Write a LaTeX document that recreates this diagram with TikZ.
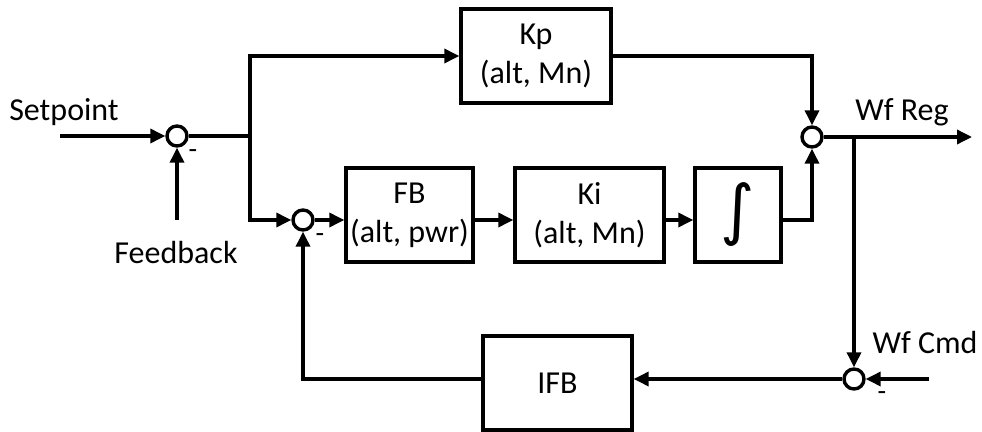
\documentclass[tikz,border=0pt]{standalone}
\usepackage{fontspec}
\setmainfont{Carlito}
\newfontfamily\symfont{DejaVu Sans}
\usetikzlibrary{arrows.meta}
\begin{document}
\begin{tikzpicture}[x=1pt,y=-1pt,line width=3.4pt,>={Triangle[length=15pt,width=14pt]},
  blk/.style={draw,align=center,minimum height=94pt,inner sep=0pt},
  sumj/.style={draw,circle,minimum size=20pt,inner sep=0pt},
  lbl/.style={font=\fontsize{32}{39}\selectfont},
  neg/.style={font=\fontsize{28}{28}\selectfont,inner sep=0pt}]
\useasboundingbox (0,0) rectangle (982,431);
\tikzset{every node/.append style={font=\fontsize{32}{39}\selectfont}}
% blocks
\node[blk,minimum width=150pt] (kp) at (536,56) {Kp\\(alt, Mn)};
\node[blk,minimum width=127pt] (fb) at (409.5,215) {FB\\(alt, pwr)};
\node[blk,minimum width=149pt] (ki) at (589.5,215) {Ki\\(alt, Mn)};
\node[blk,minimum width=86pt] (integ) at (738,215) {\fontsize{66}{66}\symfont ∫};
\node[blk,minimum width=149pt] (ifb) at (557.5,383) {IFB};
% summing junctions
\node[sumj] (suma) at (177,136) {};
\node[sumj] (sumb) at (303,220) {};
\node[sumj] (sumc) at (812,137) {};
\node[sumj] (sumd) at (854,379) {};
\node[neg] at (193,154) {-}; \node[neg] at (320,238) {-}; \node[neg] at (882,396) {-};
% free ends
\coordinate (spin) at (60,136); \coordinate (fbin) at (177,220);
\coordinate (split) at (250,136); \coordinate (tap) at (854,137);
\coordinate (wfout) at (972,137); \coordinate (cmdin) at (929,379);
% labels
\node[lbl] (setpt) at (64,112) {Setpoint};
\node[lbl] (fdbk) at (176,253) {Feedback};
\node[lbl] (wfreg) at (902,112) {Wf Reg};
\node[lbl] (wfcmd) at (925,342) {Wf Cmd};
% connectors
\draw[->] (spin) -- (suma);
\draw[->] (fbin) -- (suma);
\draw (suma) -- (split);
\draw[->] (split) |- (kp);
\draw[->] (split) |- (sumb);
\draw[->] (sumb) -- (sumb -| fb.west);
\draw[->] (fb.east |- sumb) -- (ki.west |- sumb);
\draw[->] (ki.east |- sumb) -- (integ.west |- sumb);
\draw[->] (integ.east |- sumb) -| (sumc);
\draw[->] (kp) -| (sumc);
\draw[->] (sumc) -- (wfout);
\draw[->] (tap) -- (sumd);
\draw[->] (cmdin) -- (sumd);
\draw[->] (sumd) -- (sumd -| ifb.east);
\draw[->] (ifb.west |- sumd) -| (sumb);
\end{tikzpicture}
\end{document}
